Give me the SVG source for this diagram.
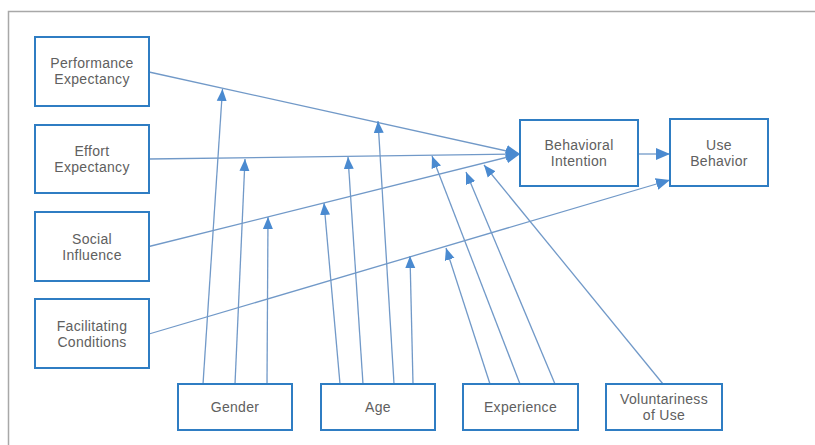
<svg xmlns="http://www.w3.org/2000/svg" width="815" height="445" viewBox="0 0 815 445">
<style>
.box{fill:#fff;stroke:#2f7dc3;stroke-width:2}
.t{font-family:"Liberation Sans",Arial,sans-serif;font-size:14px;letter-spacing:0.3px;fill:#606060;text-anchor:middle}
.c{fill:none;stroke:#7199c8;stroke-width:1.3}
</style>
<defs>
<marker id="ah" markerUnits="userSpaceOnUse" markerWidth="12" markerHeight="12" viewBox="0 0 12 10" refX="12" refY="5" orient="auto">
<path d="M0,0 L12,5 L0,10 Z" fill="#4a8ad0"/>
</marker>
<marker id="ahb" markerUnits="userSpaceOnUse" markerWidth="14" markerHeight="14" viewBox="0 0 14 12" refX="14" refY="6" orient="auto">
<path d="M0,0 L14,6 L0,12 Z" fill="#4a8ad0"/>
</marker>
</defs>
<rect width="815" height="445" fill="#fff"/>
<path d="M8.5,445 V11.5 H815" fill="none" stroke="#a8a8a8" stroke-width="1.5"/>
<g id="connectors">
<line class="c" x1="149" y1="72" x2="520" y2="154" marker-end="url(#ahb)"/>
<line class="c" x1="149" y1="159" x2="520" y2="154" marker-end="url(#ahb)"/>
<line class="c" x1="149" y1="246.5" x2="520" y2="154" marker-end="url(#ahb)"/>
<line class="c" x1="149" y1="334" x2="670" y2="180" marker-end="url(#ahb)"/>
<line class="c" x1="638" y1="154" x2="670" y2="154" marker-end="url(#ahb)"/>
<line class="c" x1="203" y1="384" x2="222.5" y2="89" marker-end="url(#ah)"/>
<line class="c" x1="235" y1="384" x2="245" y2="159" marker-end="url(#ah)"/>
<line class="c" x1="267" y1="384" x2="268" y2="217" marker-end="url(#ah)"/>
<line class="c" x1="340" y1="384" x2="324" y2="203" marker-end="url(#ah)"/>
<line class="c" x1="363" y1="384" x2="348" y2="157" marker-end="url(#ah)"/>
<line class="c" x1="394" y1="384" x2="378" y2="121" marker-end="url(#ah)"/>
<line class="c" x1="413" y1="384" x2="410" y2="256" marker-end="url(#ah)"/>
<line class="c" x1="490" y1="384" x2="446" y2="248" marker-end="url(#ah)"/>
<line class="c" x1="520" y1="384" x2="432" y2="156" marker-end="url(#ah)"/>
<line class="c" x1="555" y1="384" x2="466" y2="172" marker-end="url(#ah)"/>
<line class="c" x1="663" y1="384" x2="484" y2="165" marker-end="url(#ah)"/>
</g>
<g id="pe"><rect class="box" x="35" y="37" width="114" height="69"/><text class="t" x="92" y="68">Performance</text><text class="t" x="92" y="84">Expectancy</text></g>
<g id="ee"><rect class="box" x="35" y="125" width="114" height="68"/><text class="t" x="92" y="156">Effort</text><text class="t" x="92" y="172">Expectancy</text></g>
<g id="si"><rect class="box" x="35" y="212" width="114" height="69"/><text class="t" x="92" y="244">Social</text><text class="t" x="92" y="260">Influence</text></g>
<g id="fc"><rect class="box" x="35" y="299" width="114" height="69"/><text class="t" x="92" y="331">Facilitating</text><text class="t" x="92" y="347">Conditions</text></g>
<g id="bi"><rect class="box" x="520" y="120" width="118" height="66"/><text class="t" x="579" y="150">Behavioral</text><text class="t" x="579" y="166">Intention</text></g>
<g id="ub"><rect class="box" x="670" y="119" width="98" height="67"/><text class="t" x="719" y="150">Use</text><text class="t" x="719" y="166">Behavior</text></g>
<g id="gender"><rect class="box" x="178" y="384" width="114" height="46"/><text class="t" x="235" y="412">Gender</text></g>
<g id="age"><rect class="box" x="321" y="384" width="114" height="46"/><text class="t" x="378" y="412">Age</text></g>
<g id="experience"><rect class="box" x="463" y="384" width="115" height="46"/><text class="t" x="520.5" y="412">Experience</text></g>
<g id="voluntariness"><rect class="box" x="606" y="384" width="116" height="46"/><text class="t" x="664" y="404">Voluntariness</text><text class="t" x="664" y="420">of Use</text></g>
</svg>
